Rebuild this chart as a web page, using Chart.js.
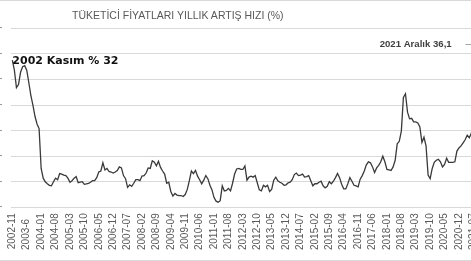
<!DOCTYPE html>
<html>
<head>
<meta charset="utf-8">
<script src="https://cdn.jsdelivr.net/npm/chart.js@4.4.1/dist/chart.umd.min.js"></script>
<style>
  html, body { margin:0; padding:0; background:#fff; }
  #wrap { position:relative; width:471px; height:261px; overflow:hidden; background:#fff; }
  #cv { position:absolute; left:0; top:0; }
  #title { position:absolute; left:72px; top:9px; font:10.5px "Liberation Sans", Arial, sans-serif; color:#595959; line-height:12px; white-space:nowrap; }
  .hb { position:absolute; left:0; width:471px; height:1px; background:#d9d9d9; }
</style>
</head>
<body>
<div id="wrap">
  <canvas id="cv" width="495" height="261"></canvas>
  <div id="title">TÜKETİCİ FİYATLARI YILLIK ARTIŞ HIZI (%)</div>
  <div class="hb" style="top:0"></div>
  <div class="hb" style="top:260px"></div>
</div>
<script>
// Category labels (monthly, 2002-11 .. 2021-12)
const categories = [
"2002-11","2002-12",
"2003-01","2003-02","2003-03","2003-04","2003-05","2003-6","2003-07","2003-08","2003-09","2003-10","2003-11","2003-12",
"2004-01","2004-02","2004-03","2004-04","2004-05","2004-06","2004-07","2004-08","2004-09","2004-10","2004-11","2004-12",
"2005-01","2005-02","2005-03","2005-04","2005-05","2005-06","2005-07","2005-08","2005-09","2005-10","2005-11","2005-12",
"2006-01","2006-02","2006-03","2006-04","2006-05","2006-06","2006-07","2006-08","2006-09","2006-10","2006-11","2006-12",
"2007-01","2007-02","2007-03","2007-04","2007-05","2007-06","2007-07","2007-08","2007-09","2007-10","2007-11","2007-12",
"2008-01","2008-02","2008-03","2008-04","2008-05","2008-06","2008-07","2008-08","2008-09","2008-10","2008-11","2008-12",
"2009-01","2009-02","2009-03","2009-04","2009-05","2009-06","2009-07","2009-08","2009-09","2009-10","2009-11","2009-12",
"2010-01","2010-02","2010-03","2010-04","2010-05","2010-06","2010-07","2010-08","2010-09","2010-10","2010-11","2010-12",
"2011-01","2011-02","2011-03","2011-04","2011-05","2011-06","2011-07","2011-08","2011-09","2011-10","2011-11","2011-12",
"2012-01","2012-02","2012-03","2012-04","2012-05","2012-06","2012-07","2012-08","2012-09","2012-10","2012-11","2012-12",
"2013-01","2013-02","2013-03","2013-04","2013-05","2013-06","2013-07","2013-08","2013-09","2013-10","2013-11","2013-12",
"2014-01","2014-02","2014-03","2014-04","2014-05","2014-06","2014-07","2014-08","2014-09","2014-10","2014-11","2014-12",
"2015-01","2015-02","2015-03","2015-04","2015-05","2015-06","2015-07","2015-08","2015-09","2015-10","2015-11","2015-12",
"2016-01","2016-02","2016-03","2016-04","2016-05","2016-06","2016-07","2016-08","2016-09","2016-10","2016-11","2016-12",
"2017-01","2017-02","2017-03","2017-04","2017-05","2017-06","2017-07","2017-08","2017-09","2017-10","2017-11","2017-12",
"2018-01","2018-02","2018-03","2018-04","2018-05","2018-06","2018-07","2018-08","2018-09","2018-10","2018-11","2018-12",
"2019-01","2019-02","2019-03","2019-04","2019-05","2019-06","2019-07","2019-08","2019-09","2019-10","2019-11","2019-12",
"2020-01","2020-02","2020-03","2020-04","2020-05","2020-06","2020-07","2020-08","2020-09","2020-10","2020-11","2020-12",
"2021-01","2021-02","2021-03","2021-04","2021-05","2021-06","2021-07","2021-08","2021-09","2021-10","2021-11","2021-12"
];

// Annual CPI change (%) by year
const v2002 = [31.8, 29.8];
const v2003 = [26.4, 27.0, 29.4, 30.5, 30.7, 29.8, 27.4, 24.9, 23.0, 20.8, 19.3, 18.4];
const v2004 = [10.6, 8.7, 8.0, 7.6, 7.3, 7.2, 8.0, 8.7, 8.4, 9.6, 9.5, 9.3];
const v2005 = [9.2, 8.7, 7.9, 8.2, 8.7, 9.0, 7.8, 7.9, 8.0, 7.5, 7.6, 7.7];
const v2006 = [7.9, 8.2, 8.2, 8.8, 9.9, 10.1, 11.7, 10.3, 10.6, 10.0, 9.9, 9.7];
const v2007 = [9.9, 10.2, 10.9, 10.7, 9.2, 8.6, 6.9, 7.4, 7.1, 7.7, 8.4, 8.4];
const v2008 = [8.2, 9.1, 9.2, 9.7, 10.7, 10.6, 12.1, 11.8, 11.1, 12.0, 10.8, 10.1];
const v2009 = [9.5, 7.7, 7.9, 6.1, 5.2, 5.7, 5.4, 5.3, 5.3, 5.1, 5.5, 6.5];
const v2010 = [8.2, 10.1, 9.6, 10.2, 9.1, 8.4, 7.6, 8.3, 9.2, 8.6, 7.3, 6.4];
const v2011 = [4.9, 4.2, 4.0, 4.3, 7.2, 6.2, 6.3, 6.7, 6.2, 7.7, 9.5, 10.5];
const v2012 = [10.6, 10.4, 10.4, 11.1, 8.3, 8.9, 9.1, 8.9, 9.2, 7.8, 6.4, 6.2];
const v2013 = [7.3, 7.0, 7.3, 6.1, 6.5, 8.3, 8.9, 8.2, 7.9, 7.7, 7.3, 7.4];
const v2014 = [7.8, 7.9, 8.4, 9.4, 9.7, 9.2, 9.3, 9.5, 8.9, 9.0, 9.2, 8.2];
const v2015 = [7.2, 7.6, 7.6, 7.9, 8.1, 7.2, 6.8, 7.1, 8.0, 7.6, 8.1, 8.8];
const v2016 = [9.6, 8.8, 7.5, 6.6, 6.6, 7.6, 8.8, 8.1, 7.3, 7.2, 7.0, 8.5];
const v2017 = [9.2, 10.1, 11.3, 11.9, 11.7, 10.9, 9.8, 10.7, 11.2, 11.9, 13.0, 11.9];
const v2018 = [10.4, 10.3, 10.2, 10.9, 12.2, 15.4, 15.9, 17.9, 24.5, 25.2, 21.6, 20.3];
const v2019 = [20.4, 19.7, 19.7, 19.5, 18.7, 15.7, 16.7, 15.0, 9.3, 8.6, 10.6, 11.8];
const v2020 = [12.2, 12.4, 11.9, 10.9, 11.4, 12.6, 11.8, 11.8, 11.8, 11.9, 14.0, 14.6];
const v2021 = [15.0, 15.6, 16.2, 17.1, 16.6, 17.5, 19.0, 19.3, 19.6, 19.9, 21.3, 36.1];

const values = [].concat(v2002, v2003, v2004, v2005, v2006, v2007, v2008, v2009, v2010,
  v2011, v2012, v2013, v2014, v2015, v2016, v2017, v2018, v2019, v2020, v2021);

const labelEvery = 7;          // every 7th month labelled
const yMin = 3, yMax = 38, yStep = 5;
const firstNote = "2002 Kasım % 32";
const lastNote = "2021 Aralık 36,1";

const notes = {
  id: 'notes',
  afterDatasetsDraw(chart) {
    const ctx = chart.ctx;
    const pts = chart.getDatasetMeta(0).data;
    const p0 = pts[0], pN = pts[pts.length - 1];
    ctx.save();
    // y-axis tick remnants at the left edge
    const ys = chart.scales.y;
    ctx.fillStyle = '#9a9a9a';
    ys.ticks.forEach((t) => {
      const yy = Math.round(ys.getPixelForValue(t.value));
      ctx.fillRect(0, yy - 1, 2, 1);
    });
    ctx.font = 'bold 11px "DejaVu Sans", Verdana, sans-serif';
    ctx.fillStyle = '#111';
    ctx.textAlign = 'left';
    ctx.textBaseline = 'middle';
    ctx.fillText(firstNote, p0.x, p0.y + 1);
    ctx.font = 'bold 9.6px "Liberation Sans", Arial, sans-serif';
    ctx.fillStyle = '#404040';
    ctx.textAlign = 'right';
    ctx.fillText(lastNote, pN.x - 32, pN.y + 6);
    ctx.strokeStyle = '#a6a6a6';
    ctx.lineWidth = 1;
    ctx.beginPath();
    ctx.moveTo(pN.x - 18, Math.round(pN.y + 6) + 0.5);
    ctx.lineTo(pN.x - 6, Math.round(pN.y + 6) + 0.5);
    ctx.stroke();
    ctx.restore();
  }
};

new Chart(document.getElementById('cv'), {
  type: 'line',
  data: {
    labels: categories,
    datasets: [{
      data: values,
      borderColor: '#3a3a3a',
      borderWidth: 1.3,
      pointRadius: 0,
      tension: 0,
      fill: false
    }]
  },
  options: {
    responsive: false,
    animation: false,
    devicePixelRatio: 1,
    layout: { padding: { left: 11.3, right: 10.3, top: 28.3, bottom: 5 } },
    plugins: { legend: { display: false }, tooltip: { enabled: false }, title: { display: false } },
    scales: {
      x: {
        offset: true,
        grid: { display: false, drawTicks: false },
        border: { display: true, color: '#d9d9d9', width: 1 },
        ticks: {
          autoSkip: false,
          minRotation: 90,
          maxRotation: 90,
          padding: 6,
          color: '#595959',
          font: { family: '"Liberation Sans", Arial, sans-serif', size: 10 },
          callback: function (val, idx) {
            if (idx % labelEvery !== 0) return null;
            const s = this.getLabelForValue(val);
            return s.length < 7 ? s + '  ' : s;
          }
        }
      },
      y: {
        min: yMin,
        max: yMax,
        grid: { color: '#d9d9d9', lineWidth: 1, drawTicks: false },
        border: { display: false },
        ticks: { display: false, stepSize: yStep }
      }
    }
  },
  plugins: [notes]
});
</script>
</body>
</html>
